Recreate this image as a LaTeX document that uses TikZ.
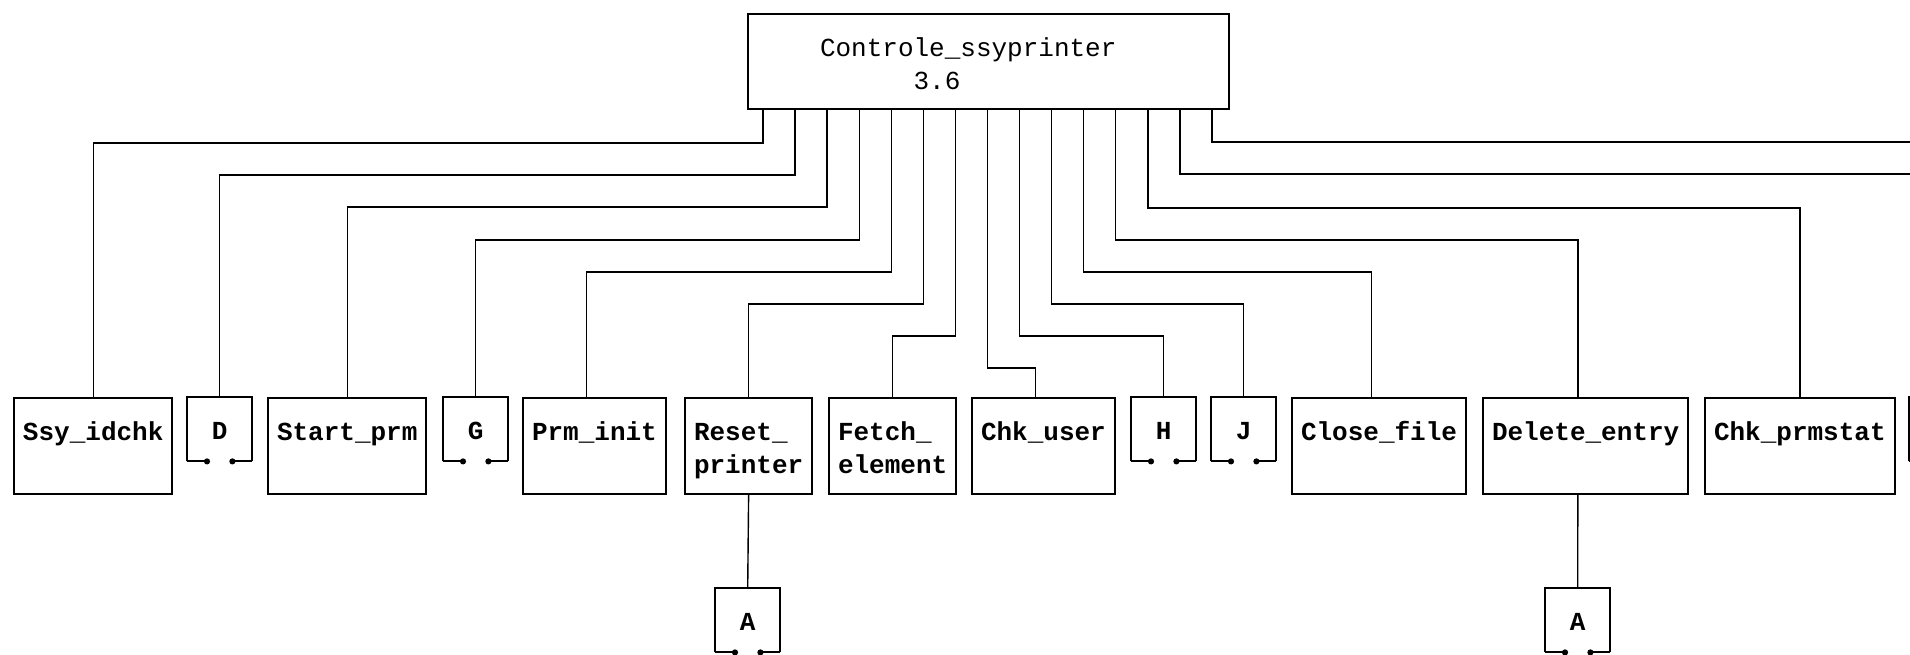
\documentclass[tikz,border=0pt]{standalone}
\usepackage{fontspec}
\setmonofont{Liberation Mono}
\usetikzlibrary{arrows.meta}

\newcommand{\twolines}[2]{\begin{tabular}[t]{@{}l@{}}#1\\#2\end{tabular}}

\begin{document}
\begin{tikzpicture}[x=1pt, y=-1pt,
    font=\ttfamily\fontsize{26}{33}\selectfont,
    modbox/.style={draw, line width=2pt, anchor=north west, inner xsep=9pt, inner ysep=0pt,
      text height=42pt, text depth=54pt, font=\ttfamily\bfseries\fontsize{26}{33}\selectfont},
    conbox/.style={anchor=north west, minimum width=65pt, inner sep=0pt,
      text height=42pt, text depth=22pt, font=\ttfamily\bfseries\fontsize{26}{33}\selectfont},
    link/.style={line width=1.4pt},
    dot/.style={line width=2pt, -{Circle[length=6pt]}}]
	\useasboundingbox (0,0) rectangle (1910,654);

	% main module
	\node[draw, line width=2pt, anchor=north west, inner xsep=72pt, inner ysep=0pt,
	  text height=42pt, text depth=53pt] (ctl) at (747,13)
	  {\makebox[337pt][l]{\twolines{Controle\_ssyprinter}{\phantom{000000}3.6}}};

	% called modules
	\node[modbox] (ssy) at (13,397) {Ssy\_idchk};
	\node[conbox] (d) at (187,397) {D};
	\node[modbox] (startprm) at (267,397) {Start\_prm};
	\node[conbox] (g) at (443,397) {G};
	\node[modbox] (prminit) at (522,397) {Prm\_init};
	\node[modbox] (reset) at (684,397) {\twolines{Reset\_}{printer}};
	\node[modbox] (fetch) at (828,397) {\twolines{Fetch\_}{element}};
	\node[modbox] (chkuser) at (971,397) {Chk\_user};
	\node[conbox] (h) at (1131,397) {H};
	\node[conbox] (j) at (1211,397) {J};
	\node[modbox] (close) at (1291,397) {Close\_file};
	\node[modbox] (delete) at (1482,397) {Delete\_entry};
	\node[modbox] (chkprm) at (1704,397) {Chk\_prmstat};
	\node[conbox] (k) at (1909,397) {};

	\node[conbox] (a1) at (715,588) {A};
	\node[conbox] (a2) at (1545,588) {A};

	% off-page connectors
	\foreach \c in {d,g,h,j,k,a1,a2} {
		\draw[line width=2pt] (\c.south west) |- (\c.north east) -- (\c.south east);
		\draw[dot] (\c.south west) -- ++(23,0);
		\draw[dot] (\c.south east) -- ++(-23,0);
	}

	% calls
	\foreach \i/\lev/\tgt/\dx in {1/141/ssy/0, 2/173/d/0, 3/205/startprm/0, 4/238/g/0,
	    5/270/prminit/-7.8, 6/302/reset/0, 7/334/fetch/0, 8/366/chkuser/-7.8,
	    9/334/h/0, 10/302/j/0, 11/270/close/-7.8, 12/238/delete/-7.8, 13/206/chkprm/0} {
		\pgfmathsetmacro\sx{16+32.07*(\i-1)}
		\draw[link] ([xshift=\sx pt]ctl.south west) -- ++(0,\lev-108) -| ([xshift=\dx pt]\tgt.north);
	}

	\coordinate (offa) at (1930,174);
	\coordinate (offb) at (1930,142);
	\draw[link] ([xshift=432.9pt]ctl.south west) |- (offa);
	\draw[link] ([xshift=465pt]ctl.south west) |- (offb);

	\draw[link] (reset.south) -- (a1.north);
	\draw[link] ([xshift=-7.8pt]delete.south) -- (a2.north);
\end{tikzpicture}
\end{document}
